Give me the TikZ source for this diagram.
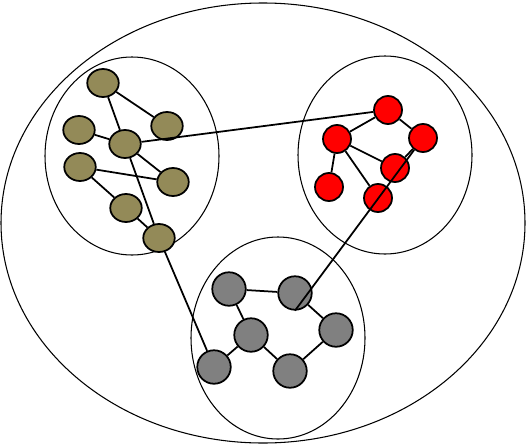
\documentclass[tikz,border=0pt]{standalone}
\usepackage{tikz}
\usetikzlibrary{shapes.geometric}
\definecolor{nodeolive}{RGB}{147,138,88}
\definecolor{nodegray}{RGB}{128,128,128}
\begin{document}
\begin{tikzpicture}[x=0.02cm,y=-0.02cm,line width=1pt,
  olv/.style={ellipse,draw,fill=nodeolive,minimum width=0.63cm,minimum height=0.56cm,inner sep=0pt},
  rd/.style={circle,draw,fill=red,minimum size=0.56cm,inner sep=0pt},
  gr/.style={circle,draw,fill=nodegray,minimum size=0.67cm,inner sep=0pt},
  grp/.style={line width=0.6pt}]
\useasboundingbox (0,0) rectangle (526,446);
\draw[grp] (263,223) ellipse (262 and 220);
\draw[grp] (132,156) ellipse (87 and 99);
\draw[grp] (385,155) ellipse (87 and 99);
\draw[grp] (278,338) ellipse (87 and 101);
\node[olv] (o1) at (103,83) {};
\node[olv] (o2) at (167,126) {};
\node[olv] (o3) at (79,130) {};
\node[olv] (o4) at (125,144) {};
\node[olv] (o5) at (80,167) {};
\node[olv] (o6) at (173,182) {};
\node[olv] (o7) at (126,208) {};
\node[olv] (o8) at (159,238) {};
\node[rd] (r1) at (388,110) {};
\node[rd] (r2) at (337,139) {};
\node[rd] (r3) at (423,138) {};
\node[rd] (r4) at (395,168) {};
\node[rd] (r5) at (329,187) {};
\node[rd] (r6) at (378,198) {};
\node[gr] (g1) at (229,289) {};
\node[gr] (g2) at (295,293) {};
\node[gr] (g3) at (251,335) {};
\node[gr] (g4) at (336,330) {};
\node[gr] (g5) at (214,367) {};
\node[gr] (g6) at (290,371) {};
\draw (o1)--(o2) (o1)--(o4) (o3)--(o4) (o4)--(o6) (o4)--(o8);
\draw (o5)--(o6) (o5)--(o7) (o7)--(o8);
\draw (r1)--(r2) (r1)--(r3) (r2)--(r4) (r2)--(r5) (r2)--(r6) (r3)--(r4);
\draw (g1)--(g2) (g1)--(g3) (g3)--(g5) (g3)--(g6) (g2)--(g4) (g4)--(g6);
\draw (o4)--(r1);
\draw (o8)--(g5);
\draw (r3)--(g2.south);
\end{tikzpicture}
\end{document}
